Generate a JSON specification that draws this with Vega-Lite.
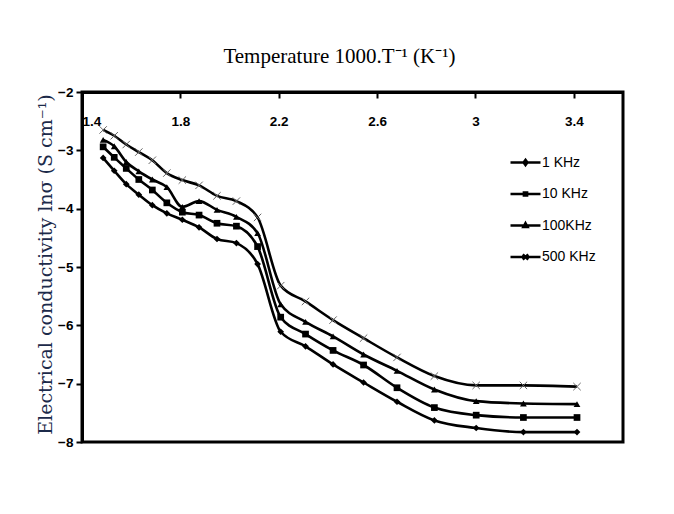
{
  "$schema": "https://vega.github.io/schema/vega-lite/v6.json",
  "width": 541,
  "height": 350,
  "autosize": "none",
  "padding": {"left": 82, "top": 92, "right": 51, "bottom": 72},
  "background": "white",
  "config": {
    "view": {"stroke": "black", "strokeWidth": 3},
    "axis": {"grid": false, "domainColor": "black", "domainWidth": 3, "tickColor": "black", "tickWidth": 2,
             "labelFont": "Liberation Sans Narrow, Arial Narrow, Liberation Sans", "labelFontWeight": "bold", "labelFontSize": 13.5, "labelColor": "black"}
  },
  "data": {"values": [
    {"f": "1 KHz", "x": 1.486, "y": -3.13}, {"f": "1 KHz", "x": 1.531, "y": -3.35}, {"f": "1 KHz", "x": 1.580, "y": -3.58}, {"f": "1 KHz", "x": 1.631, "y": -3.76},
    {"f": "1 KHz", "x": 1.686, "y": -3.94}, {"f": "1 KHz", "x": 1.745, "y": -4.08}, {"f": "1 KHz", "x": 1.808, "y": -4.19}, {"f": "1 KHz", "x": 1.876, "y": -4.32},
    {"f": "1 KHz", "x": 1.949, "y": -4.52}, {"f": "1 KHz", "x": 2.028, "y": -4.59}, {"f": "1 KHz", "x": 2.114, "y": -4.95}, {"f": "1 KHz", "x": 2.208, "y": -6.11},
    {"f": "1 KHz", "x": 2.309, "y": -6.36}, {"f": "1 KHz", "x": 2.421, "y": -6.67}, {"f": "1 KHz", "x": 2.545, "y": -6.98}, {"f": "1 KHz", "x": 2.681, "y": -7.31},
    {"f": "1 KHz", "x": 2.833, "y": -7.63}, {"f": "1 KHz", "x": 3.003, "y": -7.76}, {"f": "1 KHz", "x": 3.195, "y": -7.83}, {"f": "1 KHz", "x": 3.413, "y": -7.83},
    {"f": "10 KHz", "x": 1.486, "y": -2.94}, {"f": "10 KHz", "x": 1.531, "y": -3.12}, {"f": "10 KHz", "x": 1.580, "y": -3.31}, {"f": "10 KHz", "x": 1.631, "y": -3.50},
    {"f": "10 KHz", "x": 1.686, "y": -3.68}, {"f": "10 KHz", "x": 1.745, "y": -3.90}, {"f": "10 KHz", "x": 1.808, "y": -4.06}, {"f": "10 KHz", "x": 1.876, "y": -4.11},
    {"f": "10 KHz", "x": 1.949, "y": -4.25}, {"f": "10 KHz", "x": 2.028, "y": -4.30}, {"f": "10 KHz", "x": 2.114, "y": -4.65}, {"f": "10 KHz", "x": 2.208, "y": -5.86},
    {"f": "10 KHz", "x": 2.309, "y": -6.15}, {"f": "10 KHz", "x": 2.421, "y": -6.43}, {"f": "10 KHz", "x": 2.545, "y": -6.68}, {"f": "10 KHz", "x": 2.681, "y": -7.07},
    {"f": "10 KHz", "x": 2.833, "y": -7.41}, {"f": "10 KHz", "x": 3.003, "y": -7.54}, {"f": "10 KHz", "x": 3.195, "y": -7.58}, {"f": "10 KHz", "x": 3.413, "y": -7.58},
    {"f": "100KHz", "x": 1.486, "y": -2.82}, {"f": "100KHz", "x": 1.531, "y": -2.93}, {"f": "100KHz", "x": 1.580, "y": -3.20}, {"f": "100KHz", "x": 1.631, "y": -3.36},
    {"f": "100KHz", "x": 1.686, "y": -3.50}, {"f": "100KHz", "x": 1.745, "y": -3.63}, {"f": "100KHz", "x": 1.808, "y": -3.97}, {"f": "100KHz", "x": 1.876, "y": -3.87},
    {"f": "100KHz", "x": 1.949, "y": -4.02}, {"f": "100KHz", "x": 2.028, "y": -4.14}, {"f": "100KHz", "x": 2.114, "y": -4.42}, {"f": "100KHz", "x": 2.208, "y": -5.64},
    {"f": "100KHz", "x": 2.309, "y": -5.94}, {"f": "100KHz", "x": 2.421, "y": -6.19}, {"f": "100KHz", "x": 2.545, "y": -6.50}, {"f": "100KHz", "x": 2.681, "y": -6.78},
    {"f": "100KHz", "x": 2.833, "y": -7.10}, {"f": "100KHz", "x": 3.003, "y": -7.30}, {"f": "100KHz", "x": 3.195, "y": -7.34}, {"f": "100KHz", "x": 3.413, "y": -7.35},
    {"f": "500 KHz", "x": 1.486, "y": -2.65}, {"f": "500 KHz", "x": 1.531, "y": -2.75}, {"f": "500 KHz", "x": 1.580, "y": -2.90}, {"f": "500 KHz", "x": 1.631, "y": -3.03},
    {"f": "500 KHz", "x": 1.686, "y": -3.17}, {"f": "500 KHz", "x": 1.745, "y": -3.39}, {"f": "500 KHz", "x": 1.808, "y": -3.51}, {"f": "500 KHz", "x": 1.876, "y": -3.60},
    {"f": "500 KHz", "x": 1.949, "y": -3.78}, {"f": "500 KHz", "x": 2.028, "y": -3.87}, {"f": "500 KHz", "x": 2.114, "y": -4.15}, {"f": "500 KHz", "x": 2.208, "y": -5.32},
    {"f": "500 KHz", "x": 2.309, "y": -5.59}, {"f": "500 KHz", "x": 2.421, "y": -5.91}, {"f": "500 KHz", "x": 2.545, "y": -6.22}, {"f": "500 KHz", "x": 2.681, "y": -6.55},
    {"f": "500 KHz", "x": 2.833, "y": -6.87}, {"f": "500 KHz", "x": 3.003, "y": -7.03}, {"f": "500 KHz", "x": 3.195, "y": -7.03}, {"f": "500 KHz", "x": 3.413, "y": -7.05}
  ]},
  "encoding": {
    "x": {"field": "x", "type": "quantitative",
          "scale": {"domain": [1.4, 3.6], "nice": false, "zero": false},
          "axis": {"orient": "top", "values": [1.4, 1.8, 2.2, 2.6, 3, 3.4], "format": ".2~f",
                   "tickSize": -6, "labelPadding": -30,
                   "title": "Temperature 1000.T⁻¹ (K⁻¹)", "titleX": 257, "titleY": -26,
                   "titleFont": "Liberation Serif", "titleFontSize": 21, "titleFontWeight": "normal", "titleColor": "black"}},
    "y": {"field": "y", "type": "quantitative",
          "scale": {"domain": [-8, -2], "nice": false, "zero": false},
          "axis": {"values": [-8, -7, -6, -5, -4, -3, -2], "tickSize": 6, "labelPadding": 3,
                   "title": "Electrical conductivity lnσ (S cm⁻¹)", "titleX": -37, "titleY": 172, "titleBaseline": "middle",
                   "titleFont": "DejaVu Serif", "titleFontSize": 19, "titleFontWeight": "normal", "titleColor": "#1c2a4a"}}
  },
  "layer": [
    {"mark": {"type": "line", "interpolate": "monotone", "color": "black", "strokeWidth": 2.6},
     "encoding": {"detail": {"field": "f"}}},
    {"transform": [{"filter": "datum.f !== '500 KHz'"}],
     "mark": {"type": "point", "filled": true, "color": "black", "opacity": 1, "size": 45},
     "encoding": {"shape": {"field": "f", "type": "nominal",
                            "scale": {"domain": ["1 KHz", "10 KHz", "100KHz"], "range": ["diamond", "square", "triangle-up"]},
                            "legend": null}}},
    {"transform": [{"filter": "datum.f === '500 KHz'"}],
     "mark": {"type": "point", "filled": false, "shape": "M-1,-1L1,1M-1,1L1,-1", "size": 55, "stroke": "#666666", "strokeWidth": 1, "opacity": 1}},
    {"mark": {"type": "point", "filled": false, "color": "black", "strokeWidth": 2.4, "strokeOpacity": 0, "fillOpacity": 0, "size": 900},
     "encoding": {"shape": {"field": "f", "type": "nominal",
                            "scale": {"domain": ["1 KHz", "10 KHz", "100KHz", "500 KHz"],
                                      "range": ["M-1,0L1,0M0,-0.18L0.13,0L0,0.18L-0.13,0Z",
                                                "M-1,0L1,0M-0.11,-0.11L0.11,-0.11L0.11,0.11L-0.11,0.11Z",
                                                "M-1,0L1,0M0,-0.17L0.15,0.11L-0.15,0.11Z",
                                                "M-1,0L1,0M-0.18,-0.18L0.18,0.18M-0.18,0.18L0.18,-0.18"]},
                            "legend": {"title": null, "orient": "none", "legendX": 427, "legendY": 54,
                                       "symbolSize": 900, "rowPadding": 7.5, "labelOffset": 0, "padding": 0,
                                       "symbolStrokeWidth": 2.4, "symbolStrokeColor": "black", "symbolFillColor": "black",
                                       "labelFont": "Liberation Sans Narrow, Arial Narrow, Liberation Sans", "labelFontSize": 14, "labelColor": "black",
                                       "encode": {"symbols": {
                                         "enter": {"fill": {"value": "black"}, "stroke": {"value": "black"}, "strokeWidth": {"value": 2.4}},
                                         "update": {"fill": {"value": "black"}, "stroke": {"value": "black"},
                                                    "strokeWidth": {"value": 2.4}, "opacity": {"value": 1},
                                                    "fillOpacity": {"value": 1}, "strokeOpacity": {"value": 1}}}}}}}}
  ],
  "resolve": {"scale": {"shape": "independent"}, "legend": {"shape": "independent"}}
}
